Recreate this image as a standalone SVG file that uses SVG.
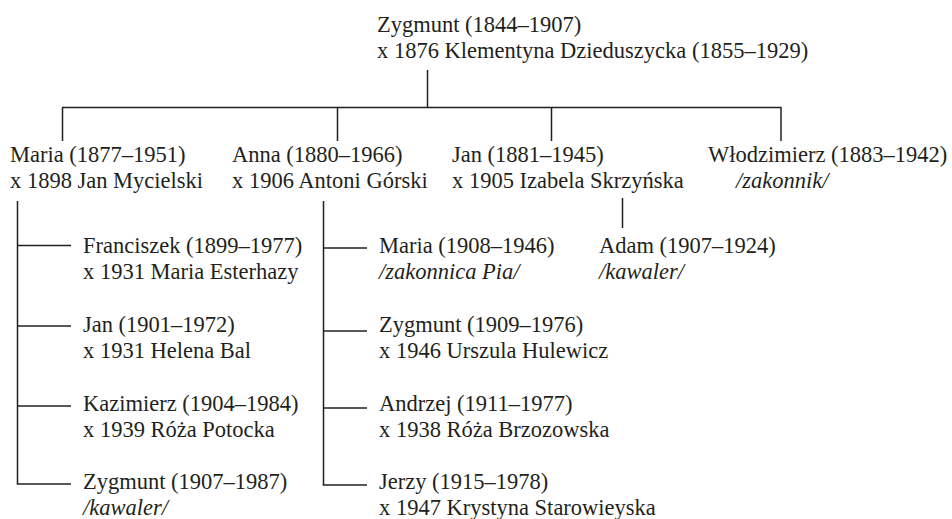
<svg xmlns="http://www.w3.org/2000/svg" width="952" height="519" viewBox="0 0 952 519">
<style>
text{font-family:"Liberation Serif","DejaVu Serif","Times New Roman",serif;font-size:22.5px;fill:#231f20}
.i{font-style:italic}
.c line{stroke:#231f20;stroke-width:1.5;fill:none}
</style>
<rect width="952" height="519" fill="#fff"/>
<g class="c" id="connectors">
<line x1="427.5" y1="70" x2="427.5" y2="107.5"/>
<line x1="62" y1="107.5" x2="781.5" y2="107.5"/>
<line x1="62.5" y1="107.5" x2="62.5" y2="141"/>
<line x1="337.5" y1="107.5" x2="337.5" y2="141"/>
<line x1="551.5" y1="107.5" x2="551.5" y2="141"/>
<line x1="781" y1="107.5" x2="781" y2="141"/>
<line x1="17.5" y1="201" x2="17.5" y2="484"/>
<line x1="17.5" y1="245.5" x2="71" y2="245.5"/>
<line x1="17.5" y1="326" x2="71" y2="326"/>
<line x1="17.5" y1="406" x2="71" y2="406"/>
<line x1="16.75" y1="484" x2="71" y2="484"/>
<line x1="323.5" y1="201" x2="323.5" y2="485"/>
<line x1="323.5" y1="248" x2="367" y2="248"/>
<line x1="323.5" y1="331" x2="367" y2="331"/>
<line x1="323.5" y1="408" x2="367" y2="408"/>
<line x1="322.75" y1="485" x2="367" y2="485"/>
<line x1="622.5" y1="198" x2="622.5" y2="228"/>
</g>
<g id="zygmunt-1844"><text x="377" y="32">Zygmunt (1844–1907)</text><text x="377" y="58">x 1876 Klementyna Dzieduszycka (1855–1929)</text></g>
<g id="maria-1877"><text x="10" y="162">Maria (1877–1951)</text><text x="10" y="188">x 1898 Jan Mycielski</text></g>
<g id="anna-1880"><text x="232" y="162">Anna (1880–1966)</text><text x="232" y="188">x 1906 Antoni Górski</text></g>
<g id="jan-1881"><text x="452" y="162">Jan (1881–1945)</text><text x="452" y="188">x 1905 Izabela Skrzyńska</text></g>
<g id="wlodzimierz-1883"><text x="708" y="162">Włodzimierz (1883–1942)</text><text x="736" y="188" class="i">/zakonnik/</text></g>
<g id="franciszek-1899"><text x="83" y="253">Franciszek (1899–1977)</text><text x="83" y="279">x 1931 Maria Esterhazy</text></g>
<g id="jan-1901"><text x="83" y="332">Jan (1901–1972)</text><text x="83" y="358">x 1931 Helena Bal</text></g>
<g id="kazimierz-1904"><text x="83" y="411">Kazimierz (1904–1984)</text><text x="83" y="437">x 1939 Róża Potocka</text></g>
<g id="zygmunt-1907"><text x="83" y="489">Zygmunt (1907–1987)</text><text x="83" y="515" class="i">/kawaler/</text></g>
<g id="maria-1908"><text x="379" y="253">Maria (1908–1946)</text><text x="379" y="279" class="i">/zakonnica Pia/</text></g>
<g id="zygmunt-1909"><text x="379" y="332">Zygmunt (1909–1976)</text><text x="379" y="358">x 1946 Urszula Hulewicz</text></g>
<g id="andrzej-1911"><text x="379" y="411">Andrzej (1911–1977)</text><text x="379" y="437">x 1938 Róża Brzozowska</text></g>
<g id="jerzy-1915"><text x="379" y="489">Jerzy (1915–1978)</text><text x="379" y="515">x 1947 Krystyna Starowieyska</text></g>
<g id="adam-1907"><text x="599" y="253">Adam (1907–1924)</text><text x="599" y="279" class="i">/kawaler/</text></g>
</svg>
